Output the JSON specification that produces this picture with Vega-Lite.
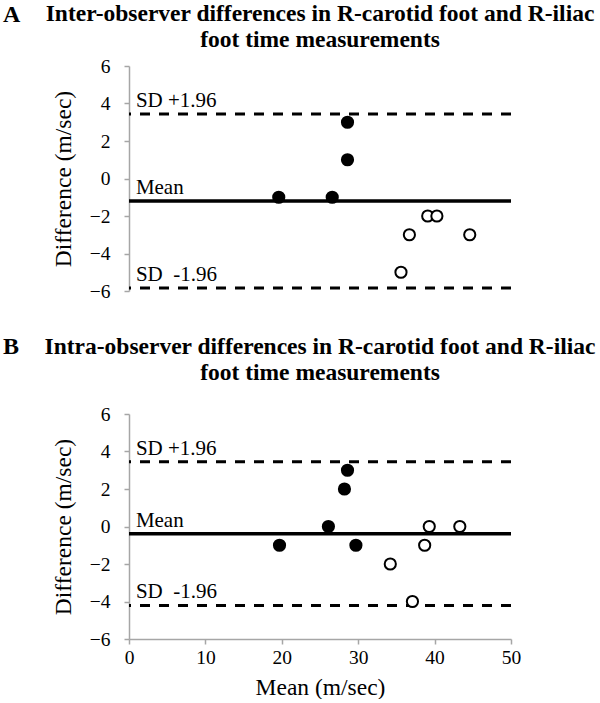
{
  "$schema": "https://vega.github.io/schema/vega-lite/v6.json",
  "padding": {"left": 2, "top": 2, "right": 0, "bottom": 0},
  "background": "white",
  "spacing": 33,
  "config": {
    "view": {"stroke": null},
    "font": "Liberation Serif",
    "title": {"font": "Liberation Serif", "fontSize": 23.5, "fontWeight": "bold", "lineHeight": 26, "color": "black", "anchor": "middle"},
    "axis": {"labelFont": "Liberation Serif", "titleFont": "Liberation Serif", "labelFontSize": 19.5, "titleFontSize": 23.5, "titleFontWeight": "normal", "labelColor": "black", "titleColor": "black", "domainColor": "#a6a6a6", "tickColor": "#a6a6a6", "grid": false, "domainWidth": 1.5, "tickWidth": 1.5, "labelOverlap": false},
    "axisY": {"values": [-6, -4, -2, 0, 2, 4, 6], "tickCount": 7, "tickSize": 5, "labelPadding": 14, "titlePadding": 14, "labelOverlap": false, "labelBound": false, "labelFlush": false}
  },
  "datasets": {
    "points": [
      {"panel": "A", "mean": 19.6, "diff": -1, "type": "filled"},
      {"panel": "A", "mean": 26.6, "diff": -1, "type": "filled"},
      {"panel": "A", "mean": 28.6, "diff": 3, "type": "filled"},
      {"panel": "A", "mean": 28.6, "diff": 1, "type": "filled"},
      {"panel": "A", "mean": 35.6, "diff": -5, "type": "open"},
      {"panel": "A", "mean": 36.7, "diff": -3, "type": "open"},
      {"panel": "A", "mean": 39.1, "diff": -2, "type": "open"},
      {"panel": "A", "mean": 40.3, "diff": -2, "type": "open"},
      {"panel": "A", "mean": 44.6, "diff": -3, "type": "open"},
      {"panel": "B", "mean": 19.7, "diff": -1, "type": "filled"},
      {"panel": "B", "mean": 26.1, "diff": 0, "type": "filled"},
      {"panel": "B", "mean": 28.2, "diff": 2, "type": "filled"},
      {"panel": "B", "mean": 28.6, "diff": 3, "type": "filled"},
      {"panel": "B", "mean": 29.7, "diff": -1, "type": "filled"},
      {"panel": "B", "mean": 34.2, "diff": -2, "type": "open"},
      {"panel": "B", "mean": 37.1, "diff": -4, "type": "open"},
      {"panel": "B", "mean": 38.7, "diff": -1, "type": "open"},
      {"panel": "B", "mean": 39.3, "diff": 0, "type": "open"},
      {"panel": "B", "mean": 43.3, "diff": 0, "type": "open"}
    ],
    "lines": [
      {"panel": "A", "kind": "mean", "value": -1.2, "label": "Mean"},
      {"panel": "A", "kind": "sd", "value": 3.44, "label": "SD +1.96"},
      {"panel": "A", "kind": "sd", "value": -5.84, "label": "SD\u00a0 -1.96"},
      {"panel": "B", "kind": "mean", "value": -0.38, "label": "Mean"},
      {"panel": "B", "kind": "sd", "value": 3.45, "label": "SD +1.96"},
      {"panel": "B", "kind": "sd", "value": -4.21, "label": "SD\u00a0 -1.96"}
    ],
    "letters": [
      {"panel": "A", "letter": "A"},
      {"panel": "B", "letter": "B"}
    ]
  },
  "vconcat": [
    {
      "width": 382,
      "height": 225,
      "title": {"text": ["Inter-observer differences in R-carotid foot and R-iliac", "foot time measurements"], "offset": -49},
      "layer": [
        {
          "data": {"name": "lines"},
          "transform": [{"filter": "datum.panel === 'A'"}],
          "mark": {"type": "rule", "color": "black"},
          "encoding": {
            "y": {"field": "value", "type": "quantitative", "scale": {"domain": [-6, 6], "nice": false}, "axis": {"title": "Difference (m/sec)"}},
            "strokeDash": {"field": "kind", "type": "nominal", "scale": {"domain": ["mean", "sd"], "range": [[1, 0], [10, 9]]}, "legend": null},
            "strokeWidth": {"field": "kind", "type": "nominal", "scale": {"domain": ["mean", "sd"], "range": [3.5, 3]}, "legend": null}
          }
        },
        {
          "data": {"name": "points"},
          "transform": [{"filter": "datum.panel === 'A'"}],
          "mark": {"type": "point", "shape": "circle", "stroke": "black", "strokeWidth": 2, "size": 125, "opacity": 1, "filled": false},
          "encoding": {
            "x": {"field": "mean", "type": "quantitative", "scale": {"domain": [0, 50], "nice": false}, "axis": null},
            "y": {"field": "diff", "type": "quantitative", "scale": {"domain": [-6, 6], "nice": false}, "axis": {"title": "Difference (m/sec)"}},
            "fill": {"field": "type", "type": "nominal", "scale": {"domain": ["filled", "open"], "range": ["black", "white"]}, "legend": null}
          }
        },
        {
          "data": {"name": "lines"},
          "transform": [{"filter": "datum.panel === 'A'"}],
          "mark": {"type": "text", "fontSize": 21, "align": "left", "baseline": "alphabetic", "dy": -7, "color": "black"},
          "encoding": {
            "x": {"datum": 0.9, "type": "quantitative"},
            "y": {"field": "value", "type": "quantitative", "axis": {"title": "Difference (m/sec)"}},
            "text": {"field": "label"}
          }
        },
        {
          "data": {"name": "letters"},
          "transform": [{"filter": "datum.panel === 'A'"}],
          "mark": {"type": "text", "fontSize": 24, "fontWeight": "bold", "align": "left", "baseline": "alphabetic", "color": "black"},
          "encoding": {
            "x": {"datum": -16.5, "type": "quantitative"},
            "y": {"datum": 8.36, "type": "quantitative", "axis": {"title": "Difference (m/sec)"}},
            "text": {"field": "letter"}
          }
        }
      ]
    },
    {
      "width": 382,
      "height": 225,
      "title": {"text": ["Intra-observer differences in R-carotid foot and R-iliac", "foot time measurements"], "offset": -49},
      "layer": [
        {
          "data": {"name": "lines"},
          "transform": [{"filter": "datum.panel === 'B'"}],
          "mark": {"type": "rule", "color": "black"},
          "encoding": {
            "y": {"field": "value", "type": "quantitative", "scale": {"domain": [-6, 6], "nice": false}, "axis": {"title": "Difference (m/sec)"}},
            "strokeDash": {"field": "kind", "type": "nominal", "scale": {"domain": ["mean", "sd"], "range": [[1, 0], [10, 9]]}, "legend": null},
            "strokeWidth": {"field": "kind", "type": "nominal", "scale": {"domain": ["mean", "sd"], "range": [3.5, 3]}, "legend": null}
          }
        },
        {
          "data": {"name": "points"},
          "transform": [{"filter": "datum.panel === 'B'"}],
          "mark": {"type": "point", "shape": "circle", "stroke": "black", "strokeWidth": 2, "size": 125, "opacity": 1, "filled": false},
          "encoding": {
            "x": {"field": "mean", "type": "quantitative", "scale": {"domain": [0, 50], "nice": false},
                  "axis": {"title": "Mean (m/sec)", "values": [0, 10, 20, 30, 40, 50], "tickSize": 5, "labelPadding": 4, "titlePadding": 9, "labelOverlap": false, "labelFlush": false}},
            "y": {"field": "diff", "type": "quantitative", "scale": {"domain": [-6, 6], "nice": false}, "axis": {"title": "Difference (m/sec)"}},
            "fill": {"field": "type", "type": "nominal", "scale": {"domain": ["filled", "open"], "range": ["black", "white"]}, "legend": null}
          }
        },
        {
          "data": {"name": "lines"},
          "transform": [{"filter": "datum.panel === 'B'"}],
          "mark": {"type": "text", "fontSize": 21, "align": "left", "baseline": "alphabetic", "dy": -7, "color": "black"},
          "encoding": {
            "x": {"datum": 0.9, "type": "quantitative"},
            "y": {"field": "value", "type": "quantitative", "axis": {"title": "Difference (m/sec)"}},
            "text": {"field": "label"}
          }
        },
        {
          "data": {"name": "letters"},
          "transform": [{"filter": "datum.panel === 'B'"}],
          "mark": {"type": "text", "fontSize": 24, "fontWeight": "bold", "align": "left", "baseline": "alphabetic", "color": "black"},
          "encoding": {
            "x": {"datum": -16.5, "type": "quantitative"},
            "y": {"datum": 9.2, "type": "quantitative", "axis": {"title": "Difference (m/sec)"}},
            "text": {"field": "letter"}
          }
        }
      ]
    }
  ]
}
